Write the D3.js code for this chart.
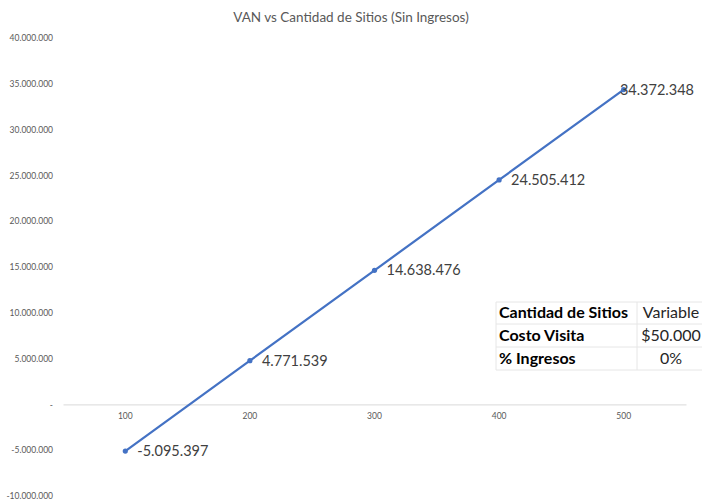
<!DOCTYPE html>
<html><head><meta charset="utf-8">
<script src="https://cdn.jsdelivr.net/npm/d3@7/dist/d3.min.js"></script>
<style>body{margin:0;background:#fff;}svg{display:block;font-family:Lato,"Open Sans",sans-serif;}</style>
</head><body>
<svg id="chart" width="702" height="501"></svg>
<script>
const title = "VAN vs Cantidad de Sitios (Sin Ingresos)";
const sites = [100, 200, 300, 400, 500];
const van = [-5095397, 4771539, 14638476, 24505412, 34372348];
const yTicks = [-10000000, -5000000, 0, 5000000, 10000000, 15000000, 20000000, 25000000, 30000000, 35000000, 40000000];
const tableLabels = ["Cantidad de Sitios", "Costo Visita", "% Ingresos"];
const tableValues = ["Variable", "$50.000", "0%"];

const svg = d3.select("#chart");
const W = 702, H = 501;
const locale = d3.formatLocale({decimal: ",", thousands: ".", grouping: [3], currency: ["$", ""], minus: "-"});
const fmt = v => v === 0 ? "-" : locale.format(",.0f")(v);

const x = d3.scaleBand().domain(sites).range([63, 686]);
const y = d3.scaleLinear().domain([-10000000, 40000000]).range([496, 38]);

svg.append("text").attr("x", 351).attr("y", 22).attr("text-anchor", "middle")
  .attr("font-size", 13.5).attr("fill", "#595959").text(title);

// y axis labels (no axis line)
const yAxis = d3.axisLeft(y).tickValues(yTicks).tickFormat(fmt).tickSize(0).tickPadding(0);
const gy = svg.append("g").attr("transform", "translate(53,0)").call(yAxis);
gy.select(".domain").remove();
gy.selectAll("text").attr("font-size", 8.5).attr("fill", "#595959").attr("font-family", "Lato, sans-serif");

// x axis at zero
const xAxis = d3.axisBottom(x).tickSize(0).tickPadding(9);
const gx = svg.append("g").attr("transform", `translate(0,${y(0)})`).call(xAxis);
gx.select(".domain").attr("stroke", "#d9d9d9").attr("stroke-width", 1);
gx.selectAll("text").attr("font-size", 8.5).attr("fill", "#595959").attr("font-family", "Lato, sans-serif");

const cx = d => x(d) + x.bandwidth() / 2;
const pts = sites.map((s, i) => [cx(s), y(van[i])]);

svg.append("path").datum(pts)
  .attr("d", d3.line())
  .attr("fill", "none").attr("stroke", "#4472C4").attr("stroke-width", 2.25);

svg.selectAll("circle.pt").data(pts).join("circle").attr("class", "pt")
  .attr("cx", d => d[0]).attr("cy", d => d[1]).attr("r", 2.6).attr("fill", "#4472C4");

// data labels
svg.selectAll("text.lbl").data(sites).join("text").attr("class", "lbl")
  .attr("font-size", 14.5).attr("fill", "#404040")
  .attr("dominant-baseline", "middle")
  .text((d, i) => fmt(van[i]))
  .each(function(d, i) {
    const t = d3.select(this);
    const w = this.getComputedTextLength();
    let lx = cx(d) + 12;
    if (lx + w > W - 8) lx = W - 8 - w;
    t.attr("x", lx).attr("y", y(van[i]) + 1.5);
  });

// table
const tx0 = 496, tx1 = 637, tx2 = 708;
const rowY = [302, 324, 347, 370];
const tg = svg.append("g");
tg.append("rect").attr("x", tx0).attr("y", rowY[0]).attr("width", tx2 - tx0).attr("height", rowY[3] - rowY[0]).attr("fill", "#fff");
tableLabels.forEach((lab, i) => {
  const ym = (rowY[i] + rowY[i + 1]) / 2;
  tg.append("text").attr("x", tx0 + 3).attr("y", ym + 1).attr("dominant-baseline", "middle")
    .attr("font-size", 16).attr("font-weight", "bold").attr("fill", "#000").text(lab);
  tg.append("text").attr("x", (tx1 + 705) / 2).attr("y", ym + 1).attr("dominant-baseline", "middle")
    .attr("text-anchor", "middle").attr("font-size", 16).attr("fill", "#262626").text(tableValues[i]);
});
rowY.forEach(r => tg.append("line").attr("x1", tx0).attr("x2", tx2).attr("y1", r).attr("y2", r).attr("stroke", "#e6e6e6"));
[tx0, tx1].forEach(c => tg.append("line").attr("x1", c).attr("x2", c).attr("y1", rowY[0]).attr("y2", rowY[3]).attr("stroke", "#e6e6e6"));
</script>
</body></html>
